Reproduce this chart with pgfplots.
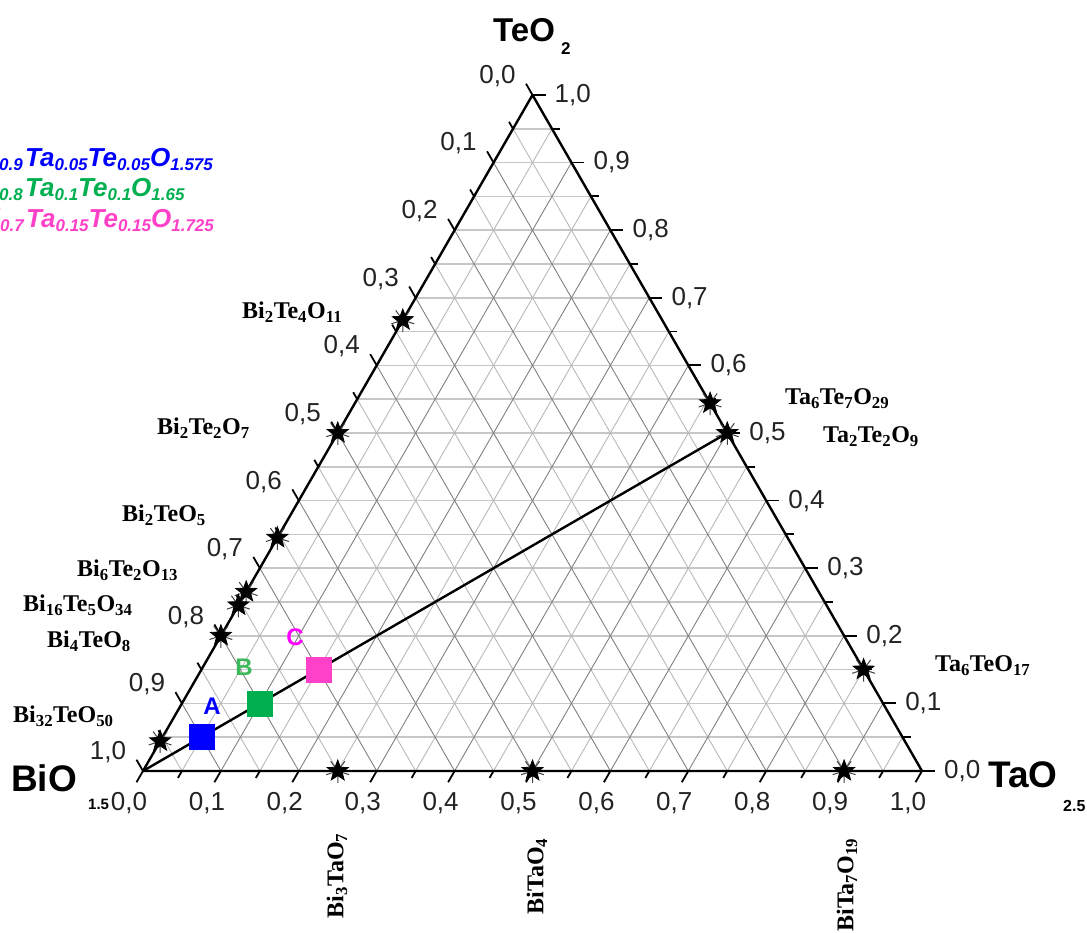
\documentclass[border=0pt]{standalone}
\usepackage{pgfplots}
\pgfplotsset{compat=1.18}
\usetikzlibrary{plotmarks}
\usepackage{fontspec}
\setmainfont{Liberation Sans}
\newfontfamily\tnr{Liberation Serif}

\definecolor{cA}{RGB}{0,0,255}
\definecolor{cB}{RGB}{0,176,80}
\definecolor{cBl}{RGB}{60,185,90}
\definecolor{cC}{RGB}{255,64,200}
\definecolor{cCl}{RGB}{255,0,255}
\definecolor{tkc}{RGB}{35,35,35}

\pgfdeclareplotmark{tick}{\pgfpathmoveto{\pgfqpoint{0pt}{0pt}}\pgfpathlineto{\pgfqpoint{0pt}{-\pgfplotmarksize}}\pgfusepathqstroke}
\pgfdeclareplotmark{pstar}{%
 \pgfpathmoveto{\pgfqpointpolar{90}{\pgfplotmarksize}}%
 \pgfpathlineto{\pgfqpointpolar{126}{0.42\pgfplotmarksize}}%
 \pgfpathlineto{\pgfqpointpolar{162}{\pgfplotmarksize}}%
 \pgfpathlineto{\pgfqpointpolar{198}{0.42\pgfplotmarksize}}%
 \pgfpathlineto{\pgfqpointpolar{234}{\pgfplotmarksize}}%
 \pgfpathlineto{\pgfqpointpolar{270}{0.42\pgfplotmarksize}}%
 \pgfpathlineto{\pgfqpointpolar{306}{\pgfplotmarksize}}%
 \pgfpathlineto{\pgfqpointpolar{342}{0.42\pgfplotmarksize}}%
 \pgfpathlineto{\pgfqpointpolar{18}{\pgfplotmarksize}}%
 \pgfpathlineto{\pgfqpointpolar{54}{0.42\pgfplotmarksize}}%
 \pgfpathclose\pgfusepathqfillstroke}

\newcommand\cmp[1]{{\tnr\bfseries\fontsize{24}{24}\selectfont #1}}
\newcommand\s[1]{\textsubscript{#1}}
\newcommand\ls[1]{\raisebox{-4pt}{\fontsize{17}{17}\selectfont #1}}
\newcommand\lab[1]{\ifnum#1=10 1,0\else 0,#1\fi}
\tikzset{tl/.style={font=\fontsize{26}{26}\selectfont, text=tkc, inner sep=0pt},
  lg/.style={font=\bfseries\itshape\fontsize{26}{26}\selectfont, inner sep=0pt}}

\begin{document}
\begin{tikzpicture}
\begin{axis}[at={(143pt,162pt)}, anchor=south west, scale only axis,
  width=779pt, height=676pt, xmin=0, xmax=1, ymin=0, ymax=1,
  axis lines=none, clip=false, unbounded coords=jump]
% horizontal grid (constant TeO2)
\addplot[black!22, line width=1.6pt] coordinates {
(0.025,0.05)(0.975,0.05)(nan,nan)(0.05,0.1)(0.95,0.1)(nan,nan)
(0.075,0.15)(0.925,0.15)(nan,nan)(0.1,0.2)(0.9,0.2)(nan,nan)
(0.125,0.25)(0.875,0.25)(nan,nan)(0.15,0.3)(0.85,0.3)(nan,nan)
(0.175,0.35)(0.825,0.35)(nan,nan)(0.2,0.4)(0.8,0.4)(nan,nan)
(0.225,0.45)(0.775,0.45)(nan,nan)(0.25,0.5)(0.75,0.5)(nan,nan)
(0.275,0.55)(0.725,0.55)(nan,nan)(0.3,0.6)(0.7,0.6)(nan,nan)
(0.325,0.65)(0.675,0.65)(nan,nan)(0.35,0.7)(0.65,0.7)(nan,nan)
(0.375,0.75)(0.625,0.75)(nan,nan)(0.4,0.8)(0.6,0.8)(nan,nan)
(0.425,0.85)(0.575,0.85)(nan,nan)(0.45,0.9)(0.55,0.9)(nan,nan)
(0.475,0.95)(0.525,0.95)};
% constant TaO2.5, minor
\addplot[black!28, line width=0.9pt] coordinates {
(0.05,0)(0.525,0.95)(nan,nan)(0.15,0)(0.575,0.85)(nan,nan)
(0.25,0)(0.625,0.75)(nan,nan)(0.35,0)(0.675,0.65)(nan,nan)
(0.45,0)(0.725,0.55)(nan,nan)(0.55,0)(0.775,0.45)(nan,nan)
(0.65,0)(0.825,0.35)(nan,nan)(0.75,0)(0.875,0.25)(nan,nan)
(0.85,0)(0.925,0.15)(nan,nan)(0.95,0)(0.975,0.05)};
% constant BiO1.5, minor
\addplot[black!28, line width=0.9pt] coordinates {
(0.05,0)(0.025,0.05)(nan,nan)(0.15,0)(0.075,0.15)(nan,nan)
(0.25,0)(0.125,0.25)(nan,nan)(0.35,0)(0.175,0.35)(nan,nan)
(0.45,0)(0.225,0.45)(nan,nan)(0.55,0)(0.275,0.55)(nan,nan)
(0.65,0)(0.325,0.65)(nan,nan)(0.75,0)(0.375,0.75)(nan,nan)
(0.85,0)(0.425,0.85)(nan,nan)(0.95,0)(0.475,0.95)};
% constant TaO2.5, major
\addplot[black!50, line width=0.9pt] coordinates {
(0.1,0)(0.55,0.9)(nan,nan)(0.2,0)(0.6,0.8)(nan,nan)
(0.3,0)(0.65,0.7)(nan,nan)(0.4,0)(0.7,0.6)(nan,nan)
(0.5,0)(0.75,0.5)(nan,nan)(0.6,0)(0.8,0.4)(nan,nan)
(0.7,0)(0.85,0.3)(nan,nan)(0.8,0)(0.9,0.2)(nan,nan)
(0.9,0)(0.95,0.1)};
% constant BiO1.5, major
\addplot[black!50, line width=0.9pt] coordinates {
(0.1,0)(0.05,0.1)(nan,nan)(0.2,0)(0.1,0.2)(nan,nan)
(0.3,0)(0.15,0.3)(nan,nan)(0.4,0)(0.2,0.4)(nan,nan)
(0.5,0)(0.25,0.5)(nan,nan)(0.6,0)(0.3,0.6)(nan,nan)
(0.7,0)(0.35,0.7)(nan,nan)(0.8,0)(0.4,0.8)(nan,nan)
(0.9,0)(0.45,0.9)};
% triangle
\addplot[black, line width=2.4pt, line join=round] coordinates {(0,0)(1,0)(0.5,1)(0,0)};
% ticks bottom
\addplot[only marks, mark=tick, mark size=13pt, line width=1.8pt, mark options={rotate=-30}] coordinates {
(0,0)(0.1,0)(0.2,0)(0.3,0)(0.4,0)(0.5,0)(0.6,0)(0.7,0)(0.8,0)(0.9,0)(1,0)};
\addplot[only marks, mark=tick, mark size=8pt, line width=1.8pt, mark options={rotate=-30}] coordinates {
(0.05,0)(0.15,0)(0.25,0)(0.35,0)(0.45,0)(0.55,0)(0.65,0)(0.75,0)(0.85,0)(0.95,0)};
% ticks right
\addplot[only marks, mark=tick, mark size=13pt, line width=1.8pt, mark options={rotate=90}] coordinates {
(1,0)(0.95,0.1)(0.9,0.2)(0.85,0.3)(0.8,0.4)(0.75,0.5)(0.7,0.6)(0.65,0.7)(0.6,0.8)(0.55,0.9)(0.5,1)};
\addplot[only marks, mark=tick, mark size=8pt, line width=1.8pt, mark options={rotate=90}] coordinates {
(0.975,0.05)(0.925,0.15)(0.875,0.25)(0.825,0.35)(0.775,0.45)(0.725,0.55)(0.675,0.65)(0.625,0.75)(0.575,0.85)(0.525,0.95)};
% ticks left
\addplot[only marks, mark=tick, mark size=13pt, line width=1.8pt, mark options={rotate=-150}] coordinates {
(0,0)(0.05,0.1)(0.1,0.2)(0.15,0.3)(0.2,0.4)(0.25,0.5)(0.3,0.6)(0.35,0.7)(0.4,0.8)(0.45,0.9)(0.5,1)};
\addplot[only marks, mark=tick, mark size=8pt, line width=1.8pt, mark options={rotate=-150}] coordinates {
(0.025,0.05)(0.075,0.15)(0.125,0.25)(0.175,0.35)(0.225,0.45)(0.275,0.55)(0.325,0.65)(0.375,0.75)(0.425,0.85)(0.475,0.95)};
% tie line
\addplot[black, line width=2.4pt] coordinates {(0,0)(0.75,0.5)};
% compounds
\addplot[only marks, mark=star, mark size=12pt, black!75, line width=1pt, mark options={rotate=36}] coordinates {
(0.3335,0.667)(0.25,0.5)(0.1725,0.345)(0.1325,0.265)(0.1225,0.245)(0.1,0.2)(0.022,0.044)
(0.25,0)(0.5,0)(0.9,0)
(0.728,0.544)(0.75,0.5)(0.925,0.15)};
\addplot[only marks, mark=pstar, mark size=11pt, black, line width=0.8pt, mark options={fill=black}] coordinates {
(0.3335,0.667)(0.25,0.5)(0.1725,0.345)(0.1325,0.265)(0.1225,0.245)(0.1,0.2)(0.022,0.044)
(0.25,0)(0.5,0)(0.9,0)
(0.728,0.544)(0.75,0.5)(0.925,0.15)};
% samples
\addplot[only marks, mark=square*, mark size=12.5pt, cA, line width=0.4pt] coordinates {(0.075,0.05)};
\addplot[only marks, mark=square*, mark size=12.5pt, cB, line width=0.4pt] coordinates {(0.15,0.1)};
\addplot[only marks, mark=square*, mark size=12.5pt, cC, line width=0.4pt] coordinates {(0.225,0.15)};
\end{axis}

% tick labels
\foreach \i in {0,...,10}{
  \pgfmathsetmacro\bx{143+77.9*\i-14}
  \node[tl] at (\bx pt,130pt) {\lab{\i}};
  \pgfmathsetmacro\rx{143+779*(1-\i/20)+22}
  \pgfmathsetmacro\ry{162+67.6*\i}
  \node[tl,anchor=west] at (\rx pt,\ry pt) {\lab{\i}};
  \pgfmathsetmacro\lx{143+779*\i/20-35}
  \pgfmathsetmacro\ly{162+67.6*\i+19}
  \pgfmathtruncatemacro\j{10-\i}
  \node[tl] at (\lx pt,\ly pt) {\lab{\j}};
}

% vertex labels
\node[anchor=base west, inner sep=0pt, font=\bfseries\fontsize{33}{33}\selectfont] at (493pt,891pt) {TeO};
\node[anchor=base west, inner sep=0pt, font=\bfseries\fontsize{17}{17}\selectfont] at (561pt,878pt) {2};
\node[anchor=base west, inner sep=0pt, font=\bfseries\fontsize{37}{37}\selectfont] at (11pt,141pt) {BiO};
\node[anchor=base west, inner sep=0pt, font=\bfseries\fontsize{15}{15}\selectfont] at (88pt,123pt) {1.5};
\node[anchor=base west, inner sep=0pt, font=\bfseries\fontsize{37}{37}\selectfont] at (988pt,145pt) {TaO};
\node[anchor=base west, inner sep=0pt, font=\bfseries\fontsize{16}{16}\selectfont] at (1063pt,121pt) {2.5};

% compound labels
\node[anchor=base west, inner sep=0pt] at (242pt,614pt) {\cmp{Bi\s{2}Te\s{4}O\s{11}}};
\node[anchor=base west, inner sep=0pt] at (157pt,498pt) {\cmp{Bi\s{2}Te\s{2}O\s{7}}};
\node[anchor=base west, inner sep=0pt] at (122pt,411pt) {\cmp{Bi\s{2}TeO\s{5}}};
\node[anchor=base west, inner sep=0pt] at (77pt,356pt) {\cmp{Bi\s{6}Te\s{2}O\s{13}}};
\node[anchor=base west, inner sep=0pt] at (23pt,321pt) {\cmp{Bi\s{16}Te\s{5}O\s{34}}};
\node[anchor=base west, inner sep=0pt] at (47pt,285pt) {\cmp{Bi\s{4}TeO\s{8}}};
\node[anchor=base west, inner sep=0pt] at (13pt,210pt) {\cmp{Bi\s{32}TeO\s{50}}};
\node[anchor=base west, inner sep=0pt] at (785pt,528pt) {\cmp{Ta\s{6}Te\s{7}O\s{29}}};
\node[anchor=base west, inner sep=0pt] at (823pt,490pt) {\cmp{Ta\s{2}Te\s{2}O\s{9}}};
\node[anchor=base west, inner sep=0pt] at (935pt,261pt) {\cmp{Ta\s{6}TeO\s{17}}};
\node[anchor=east, rotate=90, inner sep=0pt] at (337pt,100pt) {\cmp{Bi\s{3}TaO\s{7}}};
\node[anchor=east, rotate=90, inner sep=0pt] at (537pt,95pt) {\cmp{BiTaO\s{4}}};
\node[anchor=east, rotate=90, inner sep=0pt] at (847pt,95pt) {\cmp{BiTa\s{7}O\s{19}}};

% sample labels
\node[font=\bfseries\fontsize{24}{24}\selectfont, text=cA] at (212pt,227pt) {A};
\node[font=\bfseries\fontsize{24}{24}\selectfont, text=cBl] at (244pt,266pt) {B};
\node[font=\bfseries\fontsize{24}{24}\selectfont, text=cCl] at (295pt,296pt) {C};

% legend text
\node[lg, anchor=base east, text=cA] at (23pt,766pt) {Bi\ls{0.9}};
\node[lg, anchor=base west, text=cA] at (25pt,766pt) {Ta\ls{0.05}Te\ls{0.05}O\ls{1.575}};
\node[lg, anchor=base east, text=cB] at (23pt,736pt) {Bi\ls{0.8}};
\node[lg, anchor=base west, text=cB] at (25pt,736pt) {Ta\ls{0.1}Te\ls{0.1}O\ls{1.65}};
\node[lg, anchor=base east, text=cC] at (24pt,705pt) {Bi\ls{0.7}};
\node[lg, anchor=base west, text=cC] at (26pt,705pt) {Ta\ls{0.15}Te\ls{0.15}O\ls{1.725}};

\pgfresetboundingbox
\useasboundingbox (0,0) rectangle (1087pt,933pt);
\end{tikzpicture}
\end{document}
